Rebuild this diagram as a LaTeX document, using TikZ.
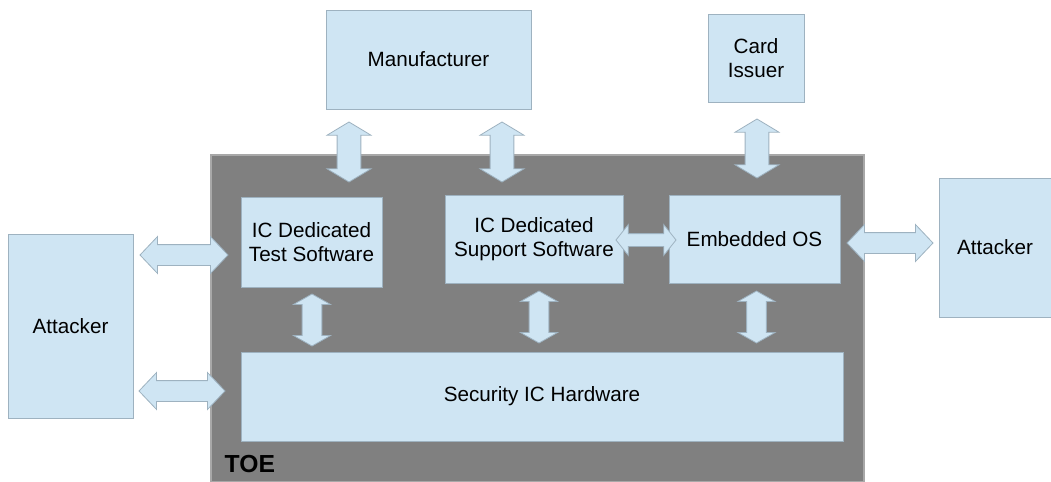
\documentclass[tikz,border=0pt]{standalone}
\usepackage{fontspec}
\setmainfont{Liberation Sans}
\usetikzlibrary{shapes.arrows,calc}
\definecolor{boxblue}{HTML}{CFE5F3}
\definecolor{boxline}{HTML}{9EB2C0}
\definecolor{toegray}{HTML}{808080}
\definecolor{toeline}{HTML}{A8A8A8}

\begin{document}
\begin{tikzpicture}[x=0.75pt, y=-0.75pt,
    box/.style={draw=boxline, fill=boxblue, line width=0.6pt, inner sep=0pt,
        align=center, font=\fontsize{15.5}{18}\selectfont},
    % block arrow: length, head width, shaft half width, tip angle
    dblarr/.style n args={4}{double arrow, draw=boxline, fill=boxblue, line width=0.6pt,
        minimum height=#1, minimum width=#2, inner xsep=0pt, inner ysep=#3,
        double arrow head extend={#2/2-#3}, double arrow tip angle=#4,
        double arrow head indent=0pt}]
    \useasboundingbox (0,0) rectangle (1051,482);

    % The TOE (gray area, cut off at the bottom)
    \draw[fill=toegray, draw=toeline, line width=0.8pt] (211,155) rectangle (864,482);
    \node[anchor=base west, font=\fontsize{18.5}{20}\selectfont\bfseries] (toe) at (220,472.5) {TOE};

    % Outside parties
    \node[box, minimum width=153.75pt, minimum height=74.25pt] (man) at (428.5,59.5) {Manufacturer};
    \node[box, minimum width=72pt, minimum height=66pt] (iss) at (756,58) {Card\\Issuer};
    \node[box, minimum width=93.75pt, minimum height=138pt] (attL) at (70.5,326) {Attacker};
    \node[box, minimum width=84pt, minimum height=104.25pt] (attR) at (995,247.5) {Attacker};

    % Parts of the TOE
    \node[box, minimum width=105.75pt, minimum height=67.5pt] (tst) at (311.5,242) {IC Dedicated\\Test Software};
    \node[box, minimum width=133.5pt, minimum height=66pt] (sup) at (534,239) {IC Dedicated\\Support Software};
    \node[box, minimum width=128.25pt, minimum height=66pt] (eos) at (754.5,239) {Embedded OS};
    \node[box, minimum width=451.5pt, minimum height=66.75pt] (hw) at (542,396.5) {Security IC Hardware};

    % Vertical arrows from the top
    \node[dblarr={45pt}{32.25pt}{8.6pt}{118}, rotate=90] (a1) at (349,152) {};
    \node[dblarr={45pt}{32.25pt}{8.6pt}{118}, rotate=90] (a2) at (502,152) {};
    \node[dblarr={44.25pt}{32.25pt}{8.6pt}{118}, rotate=90] (a3) at (757,148.5) {};

    % Vertical arrows down to the hardware
    \node[dblarr={39pt}{27pt}{7.1pt}{121}, rotate=90] (a4) at (312,320) {};
    \node[dblarr={39pt}{27pt}{7.1pt}{121}, rotate=90] (a5) at (539,317) {};
    \node[dblarr={39pt}{27pt}{7.1pt}{121}, rotate=90] (a6) at (756.5,317) {};

    % Horizontal arrows
    \node[dblarr={45pt}{22.5pt}{4.5pt}{103}] (a7) at (646,240) {};
    \node[dblarr={64.5pt}{27pt}{7.5pt}{93}] (a8) at (890,243) {};
    \node[dblarr={66pt}{27pt}{7.5pt}{93}] (a9) at (184,255) {};
    \node[dblarr={64.5pt}{27pt}{7.5pt}{93}] (a10) at (182,391) {};

\end{tikzpicture}
\end{document}
